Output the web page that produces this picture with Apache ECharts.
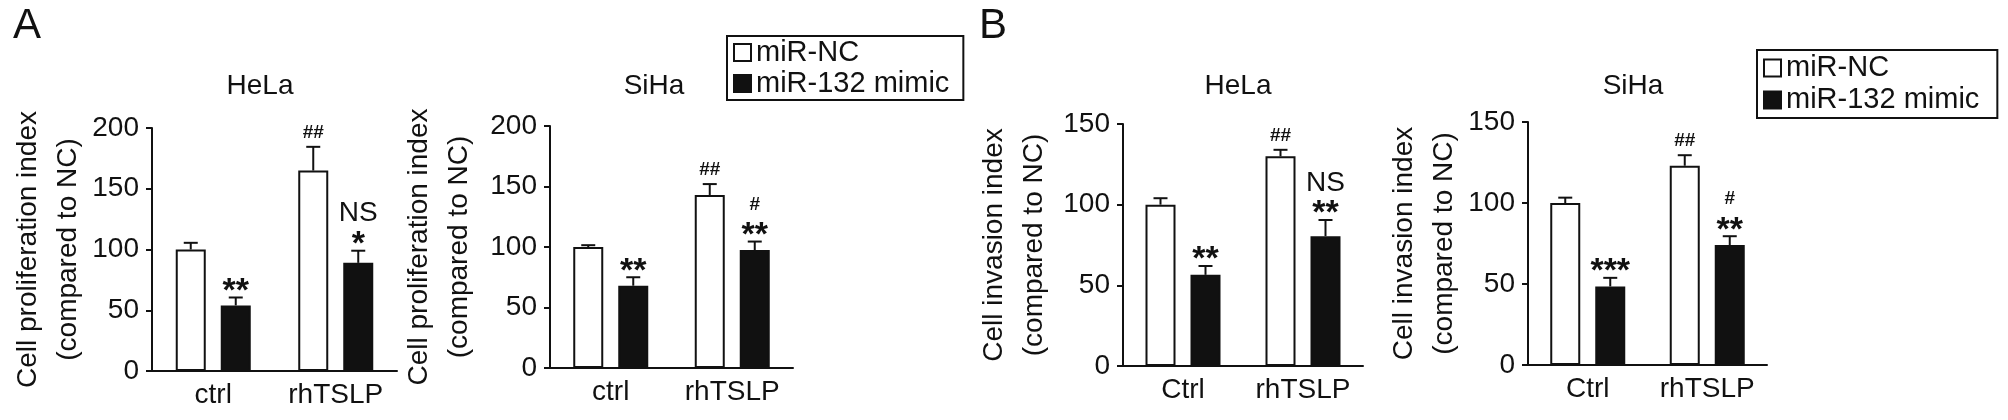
<!DOCTYPE html>
<html><head><meta charset="utf-8">
<script src="https://cdn.jsdelivr.net/npm/echarts@6/dist/echarts.min.js"></script>
<style>html,body{margin:0;padding:0;background:#fff}#c{width:2008px;height:420px}</style>
</head><body><div id="c"></div>
<script>
// ---------- DATA ----------
const categoriesA = ['ctrl', 'rhTSLP'];
const categoriesB = ['Ctrl', 'rhTSLP'];
const seriesNames = ['miR-NC', 'miR-132 mimic'];
const panelTitles = ['HeLa', 'SiHa', 'HeLa', 'SiHa'];
const panelLetters = ['A', 'B'];
const yNameProlif = 'Cell proliferation index\n(compared to NC)';
const yNameInv = 'Cell invasion index\n(compared to NC)';
const yMaxProlif = 200;
const yMaxInv = 150;
const yInterval = 50;

// A: proliferation, HeLa
const helaProlifNC = [100, 165];
const helaProlifNCErr = [5.5, 19.5];
const helaProlifMimic = [54, 89];
const helaProlifMimicErr = [6.5, 10];
// A: proliferation, SiHa
const sihaProlifNC = [100, 143];
const sihaProlifNCErr = [1.5, 9];
const sihaProlifMimic = [68, 97.5];
const sihaProlifMimicErr = [7, 7];
// B: invasion, HeLa
const helaInvNC = [100, 130];
const helaInvNCErr = [4, 4];
const helaInvMimic = [56.5, 80.5];
const helaInvMimicErr = [5.5, 10];
// B: invasion, SiHa
const sihaInvNC = [100, 123];
const sihaInvNCErr = [3.3, 6.5];
const sihaInvMimic = [48.5, 74];
const sihaInvMimicErr = [5.3, 5.5];

// significance marks: low = right above error bar, high = above that
const helaProlifNCLow = ['', '##'];
const helaProlifNCHigh = ['', ''];
const helaProlifMimicLow = ['**', '*'];
const helaProlifMimicHigh = ['', 'NS'];
const sihaProlifNCLow = ['', '##'];
const sihaProlifNCHigh = ['', ''];
const sihaProlifMimicLow = ['**', '**'];
const sihaProlifMimicHigh = ['', '#'];
const helaInvNCLow = ['', '##'];
const helaInvNCHigh = ['', ''];
const helaInvMimicLow = ['**', '**'];
const helaInvMimicHigh = ['', 'NS'];
const sihaInvNCLow = ['', '##'];
const sihaInvNCHigh = ['', ''];
const sihaInvMimicLow = ['***', '**'];
const sihaInvMimicHigh = ['', '#'];

// ---------- LAYOUT / STYLE ----------
const FONT = '"Liberation Sans", Arial, sans-serif';
const INK = '#111';
const panels = [
  { title: panelTitles[0], titleX: 260, cats: categoriesA, yName: yNameProlif, yMax: yMaxProlif, nameGap: 58,
    grid: { left: 152, width: 245, top: 128, height: 243 },
    nc: helaProlifNC, ncErr: helaProlifNCErr, mi: helaProlifMimic, miErr: helaProlifMimicErr,
    ncLow: helaProlifNCLow, ncHigh: helaProlifNCHigh, miLow: helaProlifMimicLow, miHigh: helaProlifMimicHigh },
  { title: panelTitles[1], titleX: 654, cats: categoriesA, yName: yNameProlif, yMax: yMaxProlif, nameGap: 71,
    grid: { left: 550, width: 243, top: 126, height: 242 },
    nc: sihaProlifNC, ncErr: sihaProlifNCErr, mi: sihaProlifMimic, miErr: sihaProlifMimicErr,
    ncLow: sihaProlifNCLow, ncHigh: sihaProlifNCHigh, miLow: sihaProlifMimicLow, miHigh: sihaProlifMimicHigh },
  { title: panelTitles[2], titleX: 1238, cats: categoriesB, yName: yNameInv, yMax: yMaxInv, nameGap: 69,
    grid: { left: 1123, width: 240, top: 124, height: 242 },
    nc: helaInvNC, ncErr: helaInvNCErr, mi: helaInvMimic, miErr: helaInvMimicErr,
    ncLow: helaInvNCLow, ncHigh: helaInvNCHigh, miLow: helaInvMimicLow, miHigh: helaInvMimicHigh },
  { title: panelTitles[3], titleX: 1633, cats: categoriesB, yName: yNameInv, yMax: yMaxInv, nameGap: 63,
    grid: { left: 1528, width: 239, top: 122, height: 243 },
    nc: sihaInvNC, ncErr: sihaInvNCErr, mi: sihaInvMimic, miErr: sihaInvMimicErr,
    ncLow: sihaInvNCLow, ncHigh: sihaInvNCHigh, miLow: sihaInvMimicLow, miHigh: sihaInvMimicHigh }
];

const BAR_W = 30;
const BAR_OFFSET = 22.5; // px from category centre to bar centre

function markStyle(t) {
  if (t.indexOf('*') >= 0) return { fontSize: 34, fontWeight: 'bold', dy: 8 };
  if (t.indexOf('#') >= 0) return { fontSize: 19, fontWeight: 'bold', dy: 0 };
  return { fontSize: 28, fontWeight: 'normal', dy: 0 };
}

function errorSeries(pi, means, errs, low, high, side) {
  return {
    type: 'custom', xAxisIndex: pi, yAxisIndex: pi, z: 5, silent: true,
    data: means.map((m, i) => [i, m, errs[i]]),
    renderItem: function (params, api) {
      const i = api.value(0), m = api.value(1), e = api.value(2);
      const base = api.coord([i, m]);
      const topP = api.coord([i, m + e]);
      const x = base[0] + side * BAR_OFFSET;
      const y0 = base[1], y1 = topP[1];
      const children = [
        { type: 'line', shape: { x1: x, y1: y0, x2: x, y2: y1 }, style: { stroke: INK, lineWidth: 2 } },
        { type: 'line', shape: { x1: x - 7, y1: y1, x2: x + 7, y2: y1 }, style: { stroke: INK, lineWidth: 2 } }
      ];
      const lo = low[params.dataIndex], hi = high[params.dataIndex];
      if (lo) {
        const s = markStyle(lo);
        children.push({ type: 'text', x: x, y: y1 - 14 + s.dy,
          style: { text: lo, fill: INK, fontSize: s.fontSize, fontWeight: s.fontWeight, fontFamily: FONT, align: 'center', verticalAlign: 'middle' } });
      }
      if (hi) {
        const s = markStyle(hi);
        children.push({ type: 'text', x: x, y: y1 - 37 + s.dy,
          style: { text: hi, fill: INK, fontSize: s.fontSize, fontWeight: s.fontWeight, fontFamily: FONT, align: 'center', verticalAlign: 'middle' } });
      }
      return { type: 'group', children: children };
    }
  };
}

const option = {
  animation: false,
  backgroundColor: '#fff',
  textStyle: { fontFamily: FONT, color: INK },
  title: [
    { text: panelLetters[0], left: 13, top: 5, padding: 0, textStyle: { fontSize: 42, fontWeight: 'normal', color: INK, fontFamily: FONT } },
    { text: panelLetters[1], left: 979, top: 5, padding: 0, textStyle: { fontSize: 42, fontWeight: 'normal', color: INK, fontFamily: FONT } }
  ].concat(panels.map(p => ({
    text: p.title, left: p.titleX, top: 72, padding: 0, textAlign: 'center',
    textStyle: { fontSize: 28, fontWeight: 'normal', color: INK, fontFamily: FONT }
  }))),
  legend: [
    { left: 727, top: 36, orient: 'vertical', data: seriesNames, icon: 'rect', itemWidth: 17, itemHeight: 17, itemGap: 2,
      borderColor: INK, borderWidth: 2, padding: [2, 14, 2, 6], selectedMode: false,
      textStyle: { fontSize: 29, lineHeight: 27, color: INK, fontFamily: FONT } },
    { left: 1757, top: 50, orient: 'vertical', data: seriesNames, icon: 'rect', itemWidth: 17, itemHeight: 17, itemGap: 2,
      borderColor: INK, borderWidth: 2, padding: [3, 18, 3, 6], selectedMode: false,
      textStyle: { fontSize: 29, lineHeight: 30, color: INK, fontFamily: FONT } }
  ],
  grid: panels.map(p => Object.assign({ containLabel: false }, p.grid)),
  xAxis: panels.map((p, i) => ({
    type: 'category', gridIndex: i, data: p.cats,
    axisLine: { lineStyle: { color: INK, width: 2 } },
    axisTick: { alignWithLabel: true, length: 6, lineStyle: { color: INK, width: 2 } },
    axisLabel: { interval: 0, hideOverlap: false, fontSize: 28, color: INK, margin: 10, fontFamily: FONT }
  })),
  yAxis: panels.map((p, i) => ({
    type: 'value', gridIndex: i, min: 0, max: p.yMax, interval: yInterval,
    name: p.yName, nameLocation: 'middle', nameRotate: 90, nameGap: p.nameGap,
    nameTextStyle: { fontSize: 28, lineHeight: 40, color: INK, fontFamily: FONT },
    splitLine: { show: false },
    axisLine: { show: true, lineStyle: { color: INK, width: 2 } },
    axisTick: { show: true, length: 6, lineStyle: { color: INK, width: 2 } },
    axisLabel: { fontSize: 28, color: INK, margin: 13, fontFamily: FONT }
  })),
  series: []
};

panels.forEach((p, i) => {
  option.series.push({
    name: seriesNames[0], type: 'bar', xAxisIndex: i, yAxisIndex: i, data: p.nc,
    barWidth: BAR_W, barGap: '50%',
    itemStyle: { color: '#fff', borderColor: INK, borderWidth: 2 }
  });
  option.series.push({
    name: seriesNames[1], type: 'bar', xAxisIndex: i, yAxisIndex: i, data: p.mi,
    barWidth: BAR_W, barGap: '50%',
    itemStyle: { color: INK, borderColor: INK, borderWidth: 2 }
  });
  option.series.push(errorSeries(i, p.nc, p.ncErr, p.ncLow, p.ncHigh, -1));
  option.series.push(errorSeries(i, p.mi, p.miErr, p.miLow, p.miHigh, 1));
});

const chart = echarts.init(document.getElementById('c'), null, { renderer: 'canvas' });
chart.setOption(option);
</script></body></html>
